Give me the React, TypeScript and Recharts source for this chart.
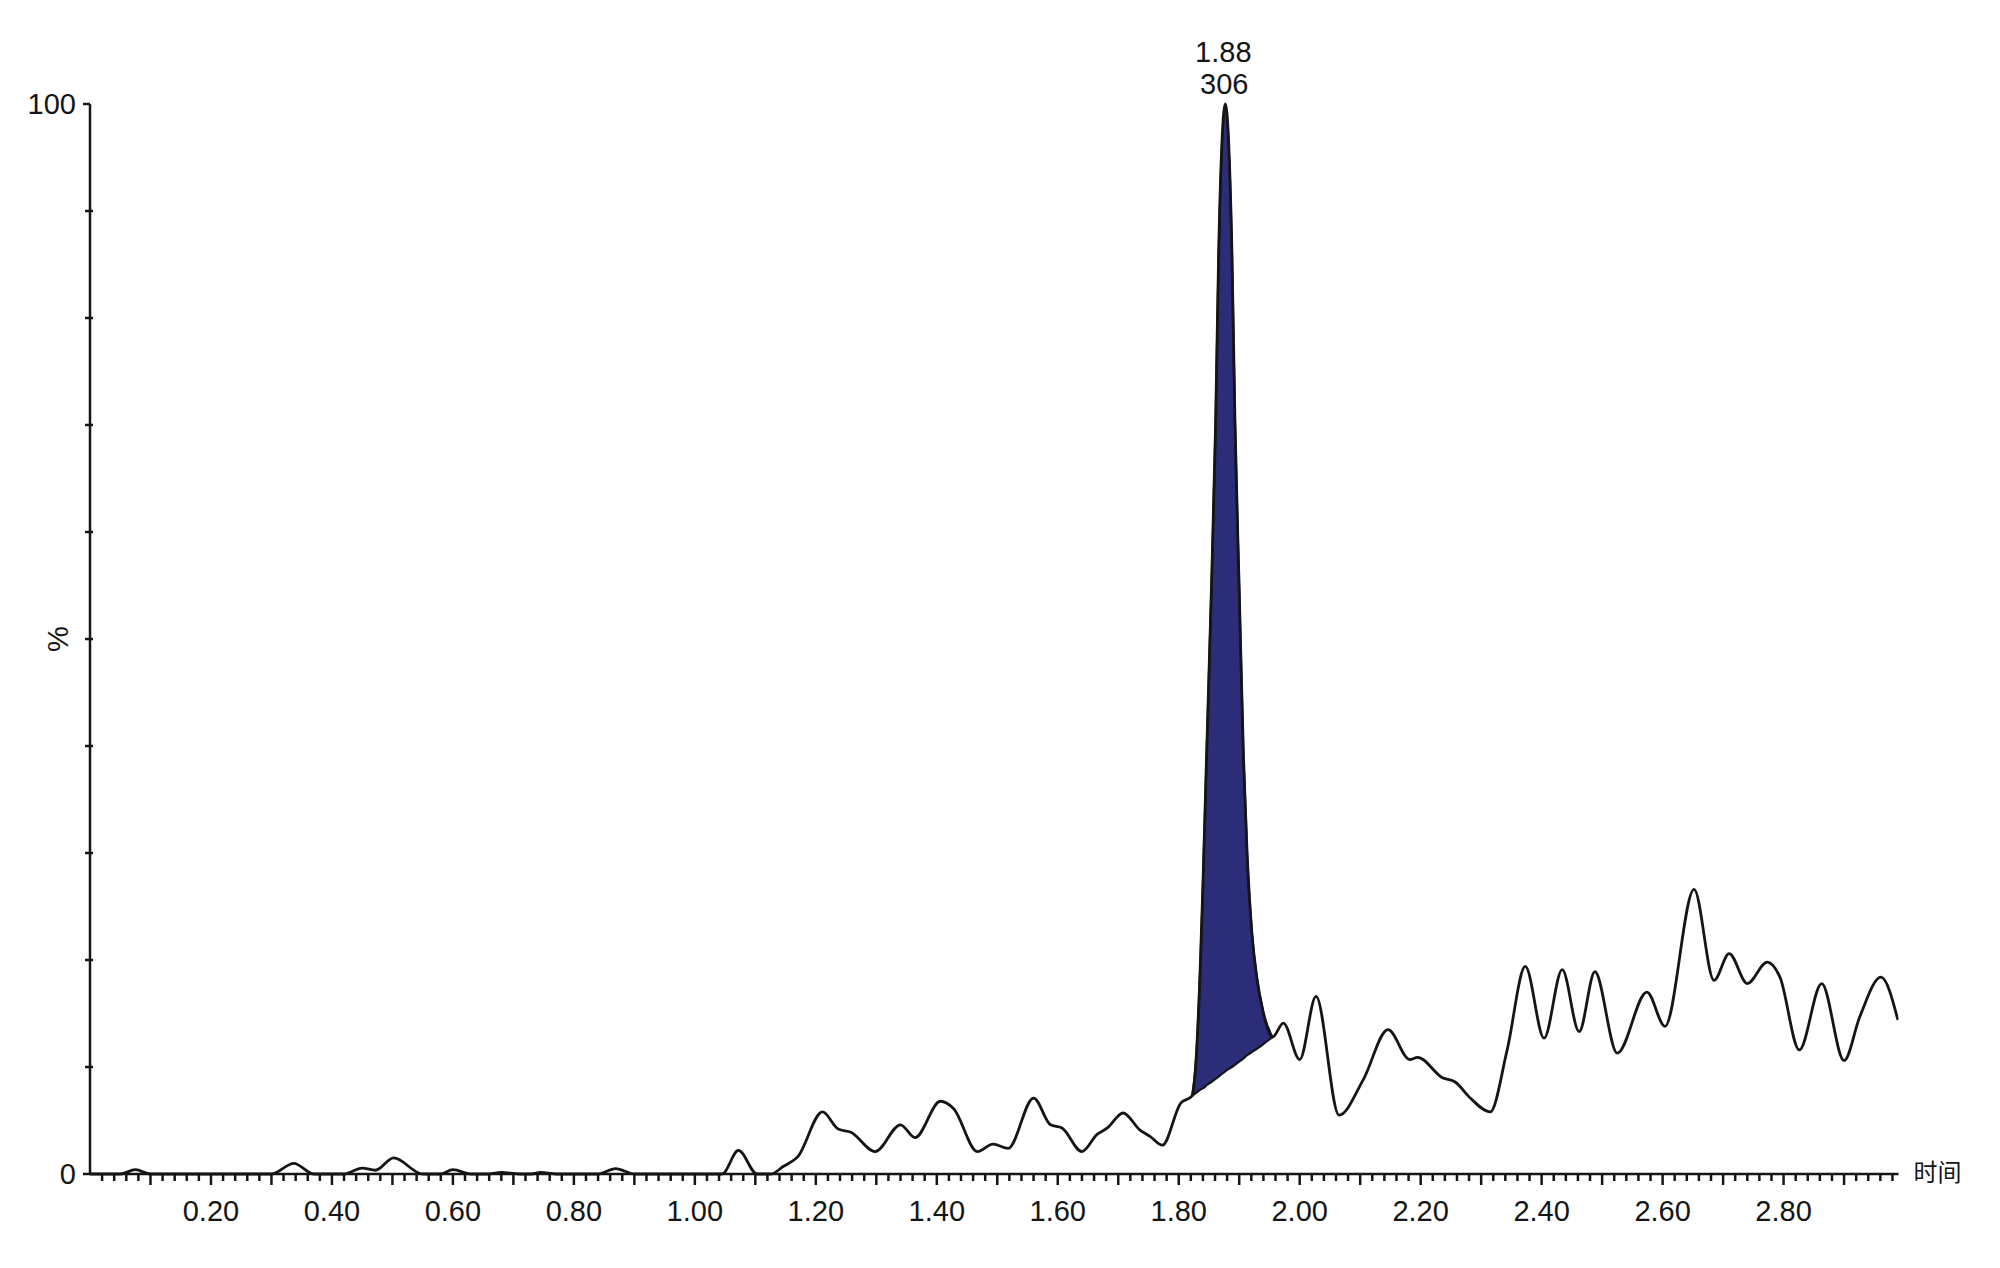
import React from "react";
import { ComposedChart, Line, Area, XAxis, YAxis, ReferenceDot } from "recharts";

// retention time (min) and relative intensity (%)
const times = [
  0, 0.05, 0.075, 0.1, 0.3, 0.337, 0.37, 0.42, 0.45, 0.472, 0.502, 0.55, 0.58, 0.6, 0.63, 0.66, 0.68, 0.71,
  0.73, 0.745, 0.77, 0.84, 0.869, 0.9, 1.045, 1.072, 1.103, 1.126, 1.146, 1.17, 1.211, 1.237, 1.258, 1.298,
  1.34, 1.364, 1.406, 1.428, 1.467, 1.493, 1.518, 1.56, 1.588, 1.607, 1.64, 1.665, 1.682, 1.708, 1.736,
  1.753, 1.773, 1.803, 1.822, 1.829, 1.836, 1.84, 1.846, 1.854, 1.861, 1.866, 1.877, 1.888, 1.893, 1.9,
  1.907, 1.913, 1.921, 1.929, 1.939, 1.955, 1.973, 2.0, 2.027, 2.065, 2.105, 2.146, 2.182, 2.195, 2.236,
  2.257, 2.282, 2.315, 2.343, 2.373, 2.404, 2.434, 2.462, 2.488, 2.525, 2.574, 2.604, 2.652, 2.685, 2.71,
  2.74, 2.773, 2.794, 2.826, 2.863, 2.9, 2.926, 2.961, 2.989,
];
const intensity = [
  0, 0, 0.4, 0, 0, 1.0, 0, 0, 0.55, 0.35, 1.5, 0, 0, 0.4, 0, 0, 0.15, 0,
  0, 0.15, 0, 0, 0.5, 0, 0, 2.2, 0, 0, 0.7, 1.6, 5.8, 4.2, 3.9, 2.1,
  4.6, 3.4, 6.8, 6.1, 2.1, 2.8, 2.4, 7.1, 4.6, 4.3, 2.1, 3.7, 4.3, 5.7, 4.1,
  3.5, 2.7, 6.6, 7.3, 11, 20, 27, 39, 54.6, 70.2, 86, 100, 86, 70.2, 54.6,
  39, 30, 22.5, 18.4, 15.3, 12.8, 14.1, 10.7, 16.6, 5.5, 8.8, 13.5, 10.7, 10.9, 9.0,
  8.6, 7.1, 5.8, 11.6, 19.4, 12.7, 19.1, 13.3, 18.9, 11.3, 17.0, 13.8, 26.6, 18.1, 20.6,
  17.8, 19.8, 18.4, 11.6, 17.8, 10.6, 14.7, 18.4, 14.4,
];

// integrated peak: drop line from 1.822 to 1.955
const peakStart = 1.822;
const peakBaseline = [
  7.3, 7.6, 7.9, 8.0, 8.3, 8.6, 8.9, 9.1, 9.6, 10.0, 10.2, 10.5, 10.8, 11.1, 11.4, 11.7, 12.1, 12.8,
];
const apexTime = 1.877;
const apexLabel = ["1.88", "306"];

const xTicks = Array.from({ length: 149 }, (_, i) => Number(((i + 1) * 0.02).toFixed(2)));
const yTicks = [0, 10, 20, 30, 40, 50, 60, 70, 80, 90, 100];

const startIdx = times.indexOf(peakStart);
const data = times.map((t, i) => {
  const b = peakBaseline[i - startIdx];
  return {
    t,
    v: intensity[i],
    band: i >= startIdx && b !== undefined ? [b, intensity[i]] : undefined,
  };
});

const INK = "#151515";
const FONT = '"Liberation Sans", Arial, sans-serif';

const XTick = ({ x, y, payload }: any) => {
  const k = Math.round(payload.value * 50);
  const long = k % 5 === 0;
  return (
    <g>
      <line x1={x} x2={x} y1={y} y2={y + (long ? 11 : 7)} stroke={INK} strokeWidth={2.5} />
      {k % 10 === 0 && (
        <text x={x} y={y + 47} textAnchor="middle" fontSize={29} fill={INK} fontFamily={FONT}>
          {payload.value.toFixed(2)}
        </text>
      )}
    </g>
  );
};

const YTick = ({ x, y, payload }: any) => {
  const end = payload.value === 0 || payload.value === 100;
  return (
    <g>
      <line x1={x - (end ? 7 : 5)} x2={x + (end ? 0 : 3)} y1={y} y2={y} stroke={INK} strokeWidth={2.5} />
      {end && (
        <text x={x - 14} y={y} dy="0.36em" textAnchor="end" fontSize={29} fill={INK} fontFamily={FONT}>
          {payload.value}
        </text>
      )}
    </g>
  );
};

export default function App() {
  return (
    <div style={{ position: "absolute", left: 0, top: 0, width: 2000, height: 1268, background: "#fff" }}>
      <ComposedChart
        width={2000}
        height={1268}
        data={data}
        margin={{ top: 104, right: 101.5, bottom: 34, left: 0 }}
      >
        <XAxis
          dataKey="t"
          type="number"
          domain={[0, 2.99]}
          allowDataOverflow
          ticks={xTicks}
          interval={0}
          tick={<XTick />}
          tickLine={false}
          tickSize={0}
          tickMargin={0}
          axisLine={{ stroke: INK, strokeWidth: 2.5 }}
          height={60}
          label={{
            content: ({ viewBox }: any) => (
              <text
                x={viewBox.x + viewBox.width + 15}
                y={viewBox.y}
                dy="0.3em"
                fontSize={24}
                fill={INK}
                fontFamily='"Noto Sans CJK SC", sans-serif'
              >
                时间
              </text>
            ),
          }}
        />
        <YAxis
          type="number"
          domain={[0, 100]}
          ticks={yTicks}
          interval={0}
          tick={<YTick />}
          tickLine={false}
          tickSize={0}
          tickMargin={0}
          axisLine={{ stroke: INK, strokeWidth: 2.5 }}
          width={90}
          label={{
            content: ({ viewBox }: any) => {
              const cx = viewBox.x + viewBox.width - 32;
              const cy = viewBox.y + viewBox.height / 2;
              return (
                <text
                  x={cx}
                  y={cy}
                  dy="0.36em"
                  textAnchor="middle"
                  transform={`rotate(-90 ${cx} ${cy})`}
                  fontSize={29}
                  fill={INK}
                  fontFamily={FONT}
                >
                  %
                </text>
              );
            },
          }}
        />
        <Area
          dataKey="band"
          type="monotone"
          fill="#2b2d78"
          fillOpacity={1}
          stroke={INK}
          strokeWidth={2.2}
          dot={false}
          activeDot={false}
          isAnimationActive={false}
        />
        <Line
          dataKey="v"
          type="monotone"
          stroke={INK}
          strokeWidth={2.8}
          dot={false}
          activeDot={false}
          isAnimationActive={false}
        />
        <ReferenceDot
          x={apexTime}
          y={100}
          r={0}
          fill="none"
          stroke="none"
          label={{
            content: ({ viewBox }: any) => (
              <g fontSize={29} fill={INK} fontFamily={FONT} textAnchor="middle">
                <text x={viewBox.x - 2} y={viewBox.y - 42}>
                  {apexLabel[0]}
                </text>
                <text x={viewBox.x - 1} y={viewBox.y - 10}>
                  {apexLabel[1]}
                </text>
              </g>
            ),
          }}
        />
      </ComposedChart>
    </div>
  );
}
